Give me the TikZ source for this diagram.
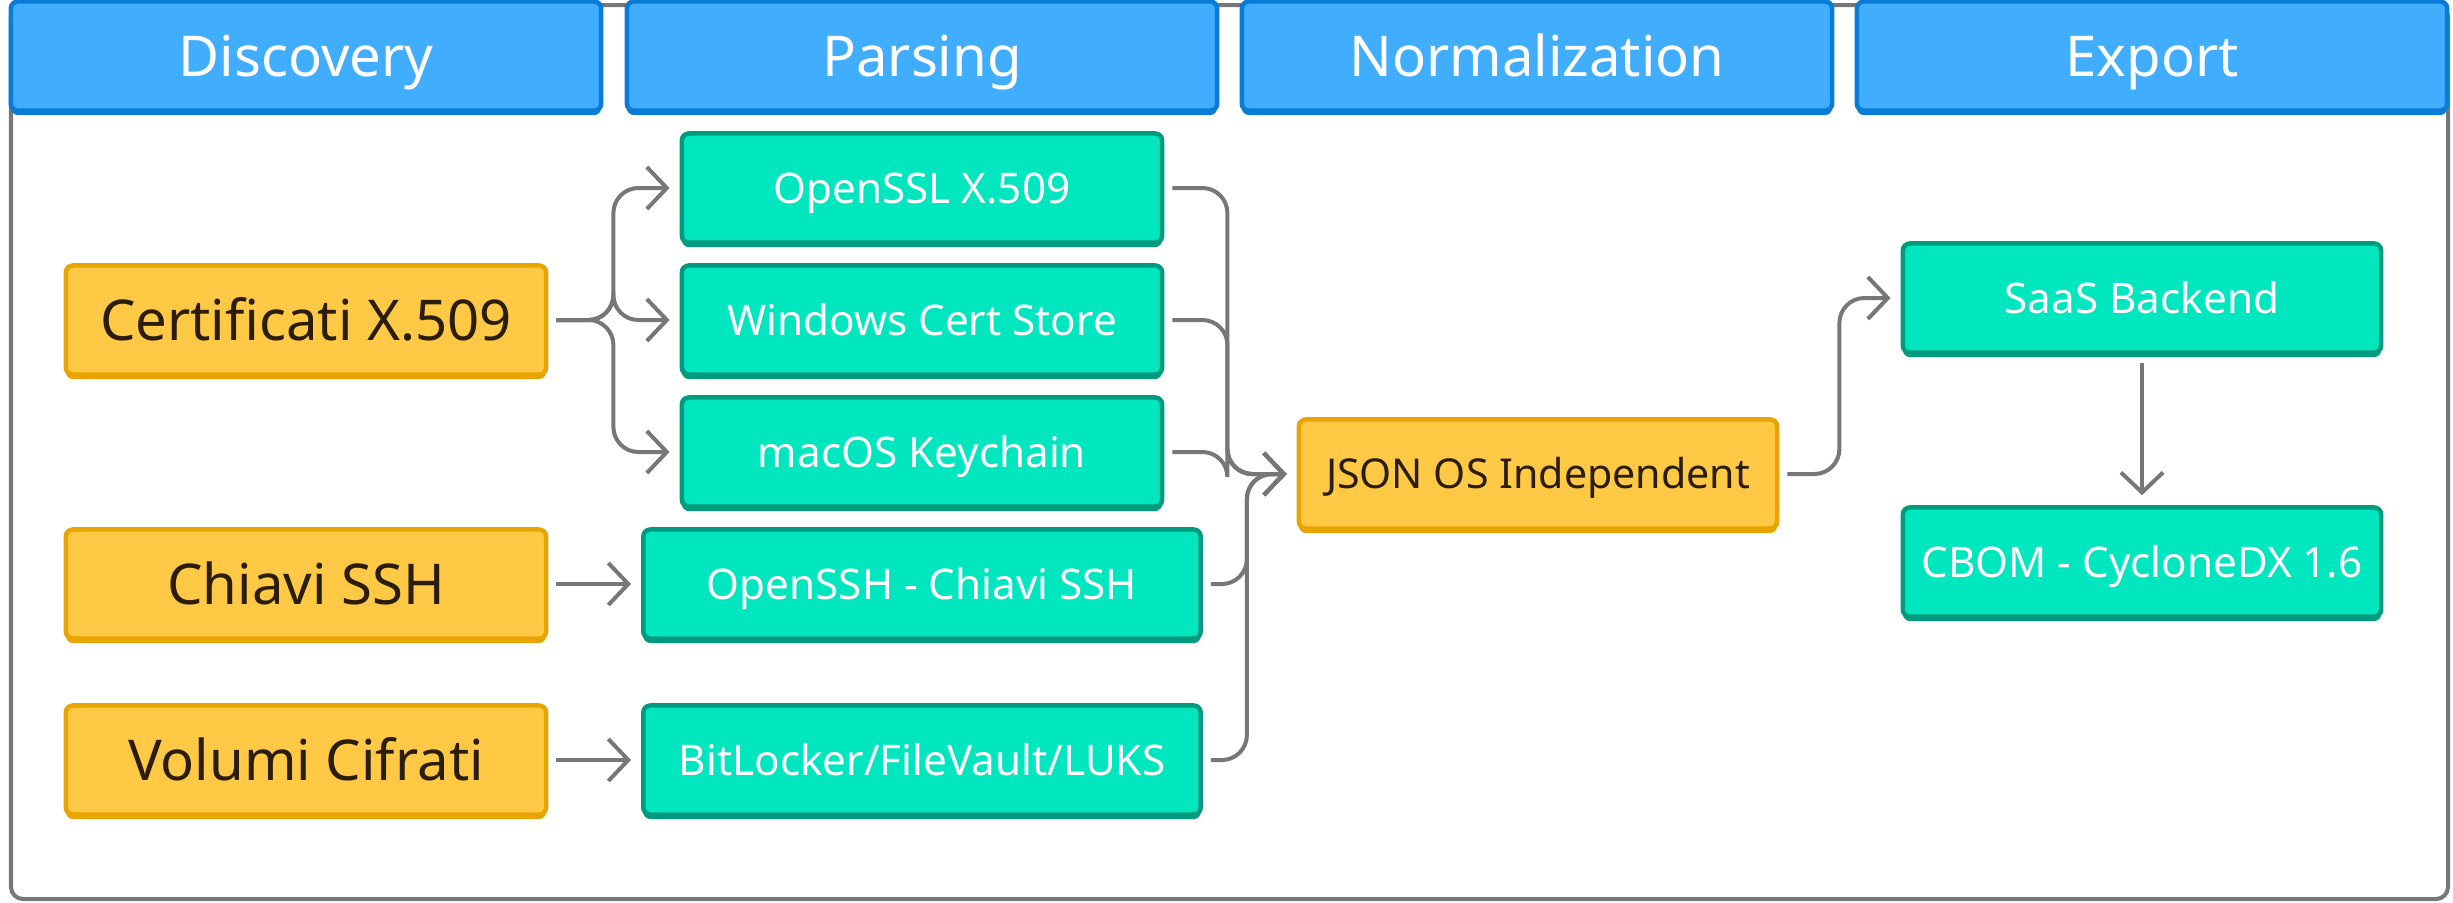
\documentclass[tikz,border=0pt]{standalone}
\usepackage{fontspec}
\setmainfont{Noto Sans}
\usetikzlibrary{arrows.meta,shadows}

\definecolor{hdrfill}{HTML}{40ADFF}
\definecolor{hdrline}{HTML}{0A7CD8}
\definecolor{srcfill}{HTML}{FFC845}
\definecolor{srcline}{HTML}{E8A400}
\definecolor{srctext}{HTML}{2A1E0A}
\definecolor{modfill}{HTML}{00E6BF}
\definecolor{modline}{HTML}{009B7E}
\definecolor{linkgray}{HTML}{777777}

\begin{document}
\begin{tikzpicture}[x=0.01cm, y=-0.01cm,
  box/.style={rounded corners=0.07cm, line width=0.045cm, minimum height=1.09cm, inner sep=0pt, align=center},
  hdr/.style={box, draw=hdrline, fill=hdrfill, text=white, minimum width=5.9cm,
    font=\fontsize{16}{19}\selectfont, text height=12pt, text depth=0.6pt,
    drop shadow={shadow xshift=0cm, shadow yshift=-0.045cm, fill=hdrline, opacity=1}},
  src/.style={box, draw=srcline, fill=srcfill, text=srctext, minimum width=4.8cm,
    font=\fontsize{16}{19}\selectfont, text height=12pt, text depth=0.6pt,
    drop shadow={shadow xshift=0cm, shadow yshift=-0.045cm, fill=srcline, opacity=1}},
  mod/.style={box, draw=modline, fill=modfill, text=white, minimum width=4.8cm,
    font=\fontsize{12}{14}\selectfont, text height=8.8pt, text depth=0.2pt,
    drop shadow={shadow xshift=0cm, shadow yshift=-0.045cm, fill=modline, opacity=1}},
  link/.style={draw=linkgray, line width=0.04cm, rounded corners=0.25cm,
    shorten <=0.08cm, shorten >=0.1cm,
    -{Straight Barb[length=0.2cm, width=0.42cm]}}
]
\useasboundingbox (0,0) rectangle (2453,902);
\draw[linkgray, line width=0.04cm, rounded corners=0.12cm] (11,5) rectangle (2448,899);

% stage headers
\foreach \n/\t/\x in {disc/Discovery/306, pars/Parsing/922, norm/Normalization/1537, expo/Export/2152}
  \node[hdr] (h\n) at (\x,56) {\t};

% discovery
\node[src] (cert) at (306,320) {Certificati X.509};
\node[src] (ssh) at (306,584) {Chiavi SSH};
\node[src] (vol) at (306,760) {Volumi Cifrati};

% parsing
\node[mod] (openssl) at (922,188) {OpenSSL X.509};
\node[mod] (wincert) at (922,320) {Windows Cert Store};
\node[mod] (keychain) at (922,452) {macOS Keychain};
\node[mod, minimum width=5.57cm] (openssh) at (922,584) {OpenSSH - Chiavi SSH};
\node[mod, minimum width=5.57cm] (disk) at (922,760) {BitLocker/FileVault/LUKS};

% normalization + export
\node[src, minimum width=4.78cm, font=\fontsize{11.7}{14}\selectfont, text height=8.6pt, text depth=0.2pt] (json) at (1538,474) {JSON OS Independent};
\node[mod, minimum width=4.78cm] (saas) at (2142,298) {SaaS Backend};
\node[mod, minimum width=4.78cm] (cbom) at (2142,562) {CBOM - CycloneDX 1.6};

\foreach \p in {openssl,wincert,keychain}
  \draw[link] (cert.east) -- ++(65,0) |- (\p.west);
\draw[link] (ssh) -- (openssh);
\draw[link] (vol) -- (disk);
\foreach \p in {openssl,wincert,keychain}
  \draw[link] (\p.east) -- ++(63,0) |- (json.west);
\foreach \p in {openssh,disk}
  \draw[link] (\p.east) -- ++(44,0) |- (json.west);
\draw[link] (json.east) -- ++(60,0) |- (saas.west);
\draw[link] (saas) -- (cbom);
\end{tikzpicture}
\end{document}
